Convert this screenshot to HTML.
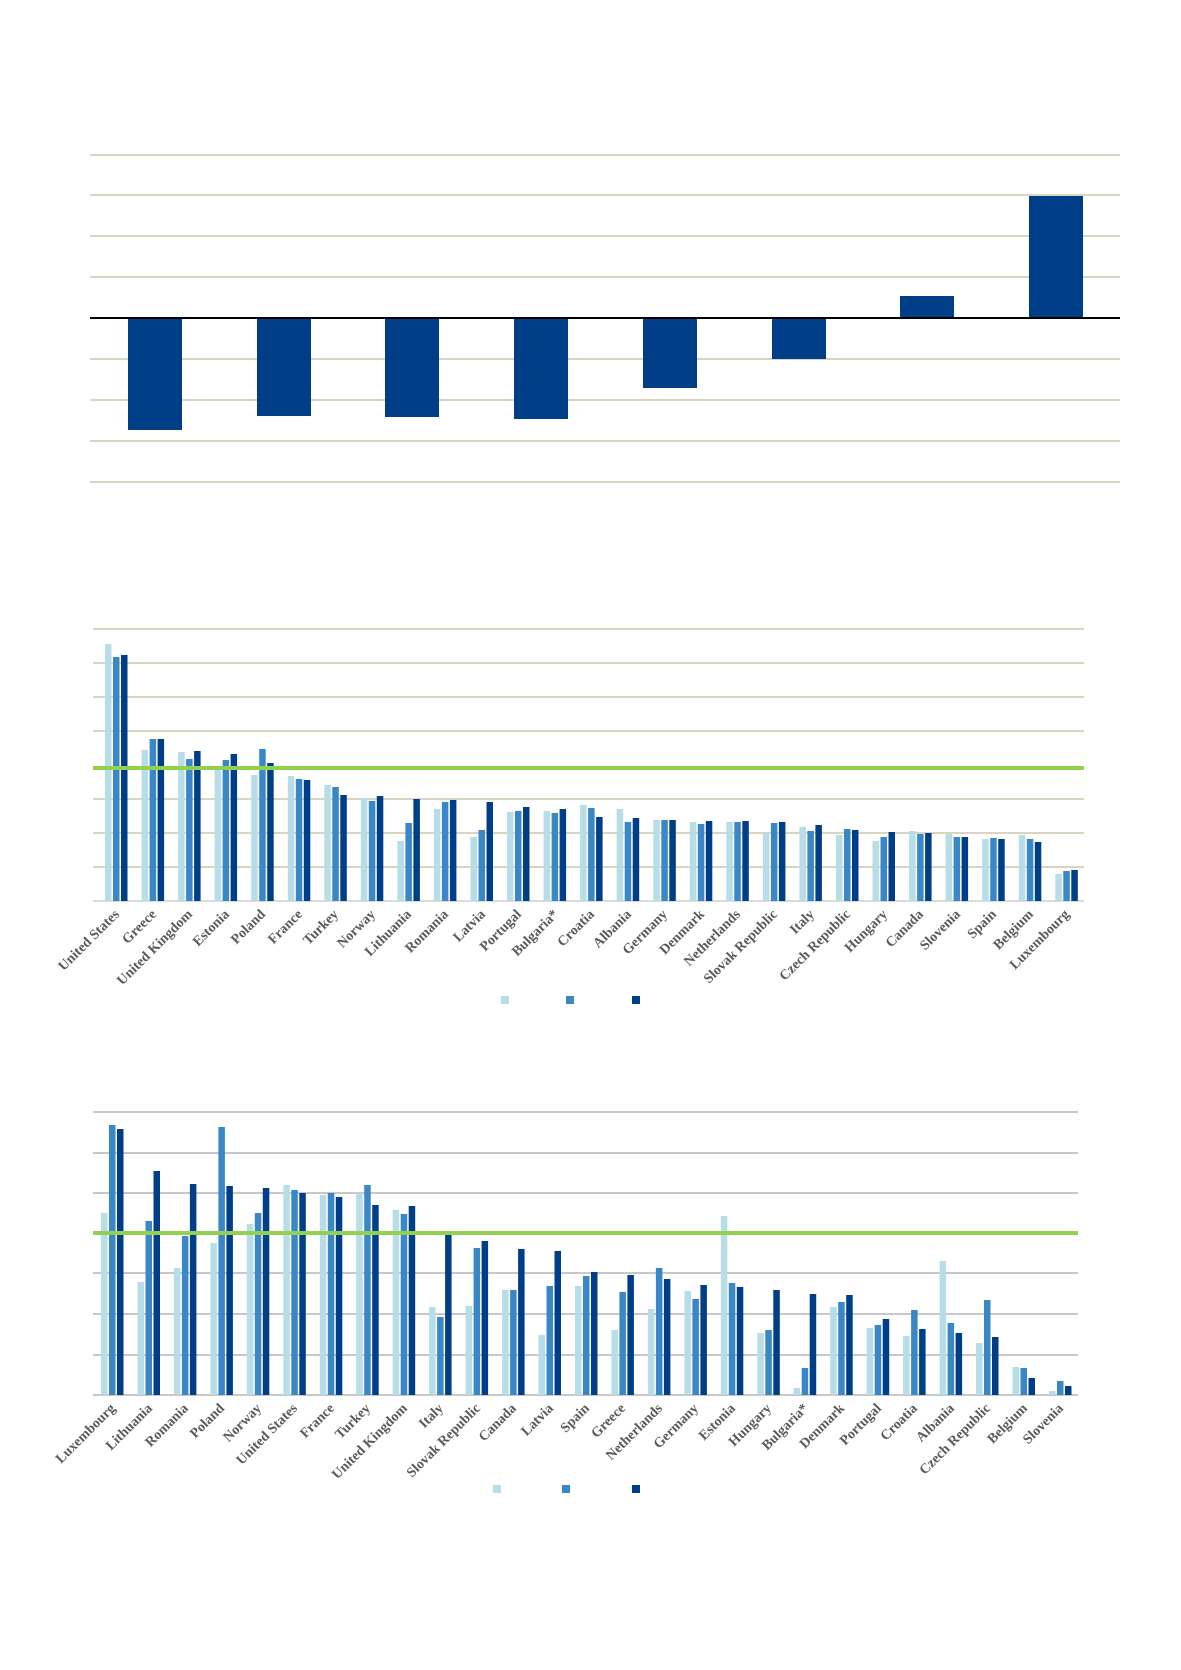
<!DOCTYPE html>
<html><head><meta charset="utf-8"><style>
html,body{margin:0;padding:0;background:#fff;}
svg{display:block;}
text{font-family:"Liberation Serif",serif;font-weight:bold;font-size:14px;fill:#595959;}
</style></head><body>
<svg id="s" width="1181" height="1670" viewBox="0 0 1181 1670" xmlns="http://www.w3.org/2000/svg">
<g stroke="#d9d5bf" stroke-width="2">
<line x1="90" y1="155" x2="1120" y2="155"/><line x1="90" y1="195" x2="1120" y2="195"/>
<line x1="90" y1="236" x2="1120" y2="236"/><line x1="90" y1="277" x2="1120" y2="277"/>
<line x1="90" y1="359" x2="1120" y2="359"/><line x1="90" y1="400" x2="1120" y2="400"/>
<line x1="90" y1="441" x2="1120" y2="441"/><line x1="90" y1="482" x2="1120" y2="482"/>
</g>
<g fill="#003f87">
<rect x="128" y="318" width="54" height="112"/>
<rect x="257" y="318" width="54" height="98"/>
<rect x="385" y="318" width="54" height="99"/>
<rect x="514" y="318" width="54" height="101"/>
<rect x="643" y="318" width="54" height="70"/>
<rect x="772" y="318" width="54" height="41"/>
<rect x="900" y="296" width="54" height="22"/>
<rect x="1029" y="196" width="54" height="122"/>
</g>
<line x1="90" y1="318" x2="1120" y2="318" stroke="#000" stroke-width="2"/>

<g stroke="#d9d5bf" stroke-width="2">
<line x1="93" y1="629" x2="1084" y2="629"/><line x1="93" y1="663" x2="1084" y2="663"/>
<line x1="93" y1="697" x2="1084" y2="697"/><line x1="93" y1="731" x2="1084" y2="731"/>
<line x1="93" y1="799" x2="1084" y2="799"/><line x1="93" y1="833" x2="1084" y2="833"/>
<line x1="93" y1="867" x2="1084" y2="867"/>
</g>
<line x1="93" y1="901" x2="1084" y2="901" stroke="#d0d0d0" stroke-width="1.5"/>
<g id="c2"></g>
<line x1="93" y1="768" x2="1084" y2="768" stroke="#92d050" stroke-width="4"/>

<g stroke="#c8c8c8" stroke-width="2">
<line x1="93" y1="1112" x2="1078" y2="1112"/><line x1="93" y1="1153" x2="1078" y2="1153"/>
<line x1="93" y1="1193" x2="1078" y2="1193"/><line x1="93" y1="1273" x2="1078" y2="1273"/>
<line x1="93" y1="1314" x2="1078" y2="1314"/><line x1="93" y1="1355" x2="1078" y2="1355"/>
<line x1="93" y1="1395" x2="1078" y2="1395"/>
</g>
<g id="c3"></g>
<line x1="93" y1="1233" x2="1078" y2="1233" stroke="#92d050" stroke-width="4"/>

<g text-anchor="end">
<text transform="translate(120,915) rotate(-45)">United States</text>
<text transform="translate(157,915) rotate(-45)">Greece</text>
<text transform="translate(193,915) rotate(-45)">United Kingdom</text>
<text transform="translate(230,915) rotate(-45)">Estonia</text>
<text transform="translate(266,915) rotate(-45)">Poland</text>
<text transform="translate(303,915) rotate(-45)">France</text>
<text transform="translate(339,915) rotate(-45)">Turkey</text>
<text transform="translate(376,915) rotate(-45)">Norway</text>
<text transform="translate(412,915) rotate(-45)">Lithuania</text>
<text transform="translate(449,915) rotate(-45)">Romania</text>
<text transform="translate(486,915) rotate(-45)">Latvia</text>
<text transform="translate(522,915) rotate(-45)">Portugal</text>
<text transform="translate(559,915) rotate(-45)">Bulgaria*</text>
<text transform="translate(595,915) rotate(-45)">Croatia</text>
<text transform="translate(632,915) rotate(-45)">Albania</text>
<text transform="translate(668,915) rotate(-45)">Germany</text>
<text transform="translate(705,915) rotate(-45)">Denmark</text>
<text transform="translate(741,915) rotate(-45)">Netherlands</text>
<text transform="translate(778,915) rotate(-45)">Slovak Republic</text>
<text transform="translate(815,915) rotate(-45)">Italy</text>
<text transform="translate(851,915) rotate(-45)">Czech Republic</text>
<text transform="translate(888,915) rotate(-45)">Hungary</text>
<text transform="translate(924,915) rotate(-45)">Canada</text>
<text transform="translate(961,915) rotate(-45)">Slovenia</text>
<text transform="translate(997,915) rotate(-45)">Spain</text>
<text transform="translate(1034,915) rotate(-45)">Belgium</text>
<text transform="translate(1070,915) rotate(-45)">Luxembourg</text>

<text transform="translate(116,1409) rotate(-45)">Luxembourg</text>
<text transform="translate(153,1409) rotate(-45)">Lithuania</text>
<text transform="translate(189,1409) rotate(-45)">Romania</text>
<text transform="translate(225,1409) rotate(-45)">Poland</text>
<text transform="translate(262,1409) rotate(-45)">Norway</text>
<text transform="translate(298,1409) rotate(-45)">United States</text>
<text transform="translate(335,1409) rotate(-45)">France</text>
<text transform="translate(371,1409) rotate(-45)">Turkey</text>
<text transform="translate(408,1409) rotate(-45)">United Kingdom</text>
<text transform="translate(444,1409) rotate(-45)">Italy</text>
<text transform="translate(481,1409) rotate(-45)">Slovak Republic</text>
<text transform="translate(517,1409) rotate(-45)">Canada</text>
<text transform="translate(554,1409) rotate(-45)">Latvia</text>
<text transform="translate(590,1409) rotate(-45)">Spain</text>
<text transform="translate(626,1409) rotate(-45)">Greece</text>
<text transform="translate(663,1409) rotate(-45)">Netherlands</text>
<text transform="translate(699,1409) rotate(-45)">Germany</text>
<text transform="translate(736,1409) rotate(-45)">Estonia</text>
<text transform="translate(772,1409) rotate(-45)">Hungary</text>
<text transform="translate(809,1409) rotate(-45)">Bulgaria*</text>
<text transform="translate(845,1409) rotate(-45)">Denmark</text>
<text transform="translate(882,1409) rotate(-45)">Portugal</text>
<text transform="translate(918,1409) rotate(-45)">Croatia</text>
<text transform="translate(955,1409) rotate(-45)">Albania</text>
<text transform="translate(991,1409) rotate(-45)">Czech Republic</text>
<text transform="translate(1028,1409) rotate(-45)">Belgium</text>
<text transform="translate(1064,1409) rotate(-45)">Slovenia</text>
</g>

<rect x="501" y="996" width="8" height="8" fill="#b7dde8"/>
<rect x="566" y="996" width="8" height="8" fill="#3a87c8"/>
<rect x="632" y="996" width="8" height="8" fill="#003f87"/>
<rect x="493" y="1485" width="8" height="8" fill="#b7dde8"/>
<rect x="562" y="1485" width="8" height="8" fill="#3a87c8"/>
<rect x="632" y="1485" width="8" height="8" fill="#003f87"/>
</svg>
<script>
var C=["#b7dde8","#3a87c8","#003f87"],NS="http://www.w3.org/2000/svg";
function draw(id,x0,dx,base,d){var g=document.getElementById(id);
d.forEach(function(v,i){var c=x0+dx*i;for(var k=0;k<3;k++){var r=document.createElementNS(NS,"rect");
r.setAttribute("x",(c-11+8*k).toFixed(1));r.setAttribute("y",v[k]);r.setAttribute("width",6.5);
r.setAttribute("height",base-v[k]);r.setAttribute("fill",C[k]);g.appendChild(r);}});}
draw("c2",116,36.55,901,[[644,657,655],[750,739,739],[752,759,751],[769,760,754],[775,749,763],[776,779,780],[785,787,795],[798,801,796],[841,823,799],[809,802,800],[837,830,802],[812,811,807],[811,813,809],[805,808,817],[809,822,818],[820,820,820],[822,824,821],[822,822,821],[833,823,822],[827,831,825],[835,829,830],[841,837,832],[831,834,833],[834,837,837],[839,838,839],[835,839,842],[874,871,870]]);
draw("c3",112,36.46,1395,[[1213,1125,1129],[1282,1221,1171],[1268,1236,1184],[1243,1127,1186],[1224,1213,1188],[1185,1190,1193],[1195,1193,1197],[1193,1185,1205],[1210,1214,1206],[1307,1317,1235],[1306,1248,1241],[1290,1290,1249],[1335,1286,1251],[1286,1276,1272],[1330,1292,1275],[1309,1268,1279],[1291,1299,1285],[1216,1283,1287],[1333,1330,1290],[1388,1368,1294],[1307,1302,1295],[1328,1325,1319],[1336,1310,1329],[1261,1323,1333],[1343,1300,1337],[1367,1368,1378],[1391,1381,1386]]);
</script>
</body></html>
